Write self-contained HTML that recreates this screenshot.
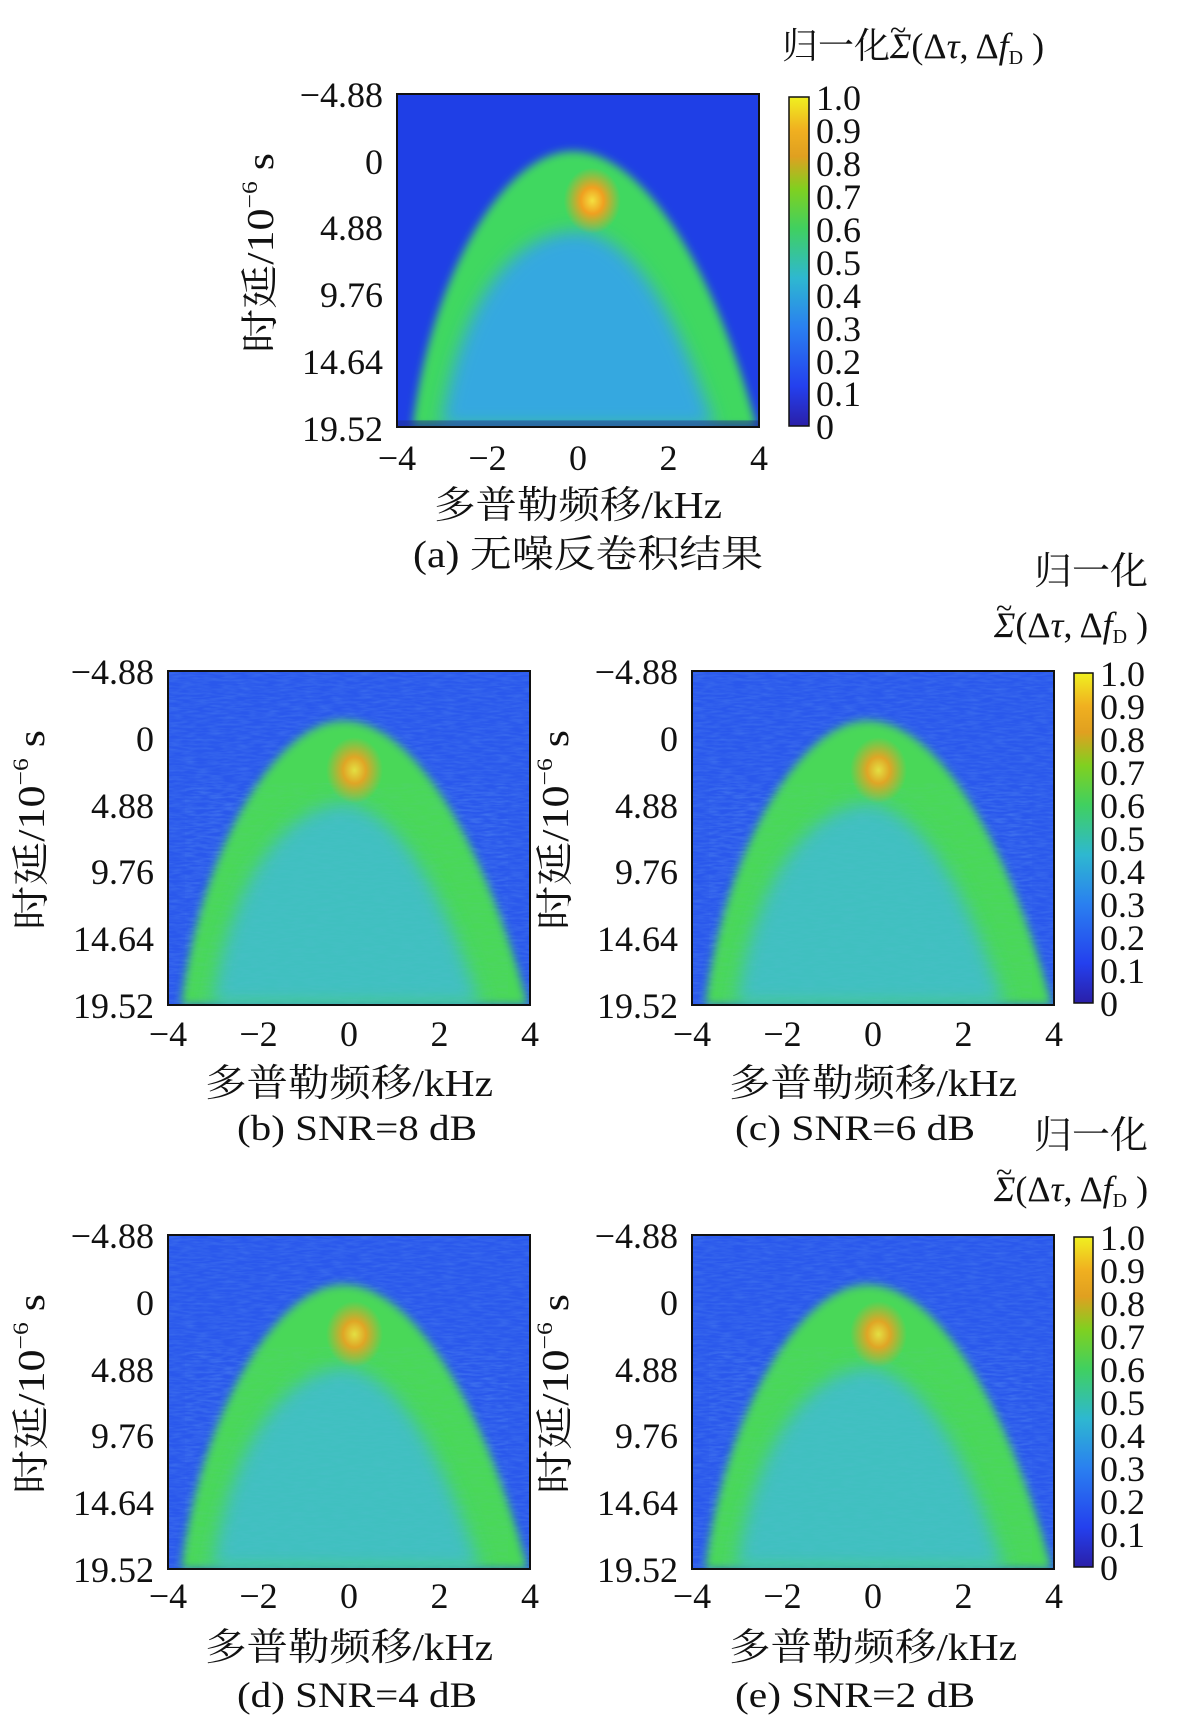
<!DOCTYPE html>
<html><head><meta charset="utf-8"><style>
html,body{margin:0;padding:0;background:#fff;}
svg text{font-family:"Liberation Serif","Noto Serif CJK SC",serif;fill:#111;}
</style></head><body>
<svg width="1181" height="1725" viewBox="0 0 1181 1725" xmlns="http://www.w3.org/2000/svg">
<defs>
<linearGradient id="cb" x1="0" y1="1" x2="0" y2="0">
<stop offset="0" stop-color="#2a1fa8"/><stop offset="0.12" stop-color="#2440ee"/>
<stop offset="0.3" stop-color="#2a80f0"/><stop offset="0.45" stop-color="#2eb8d0"/>
<stop offset="0.6" stop-color="#40d060"/><stop offset="0.72" stop-color="#80d020"/>
<stop offset="0.82" stop-color="#e0a020"/><stop offset="0.9" stop-color="#f0b020"/>
<stop offset="1" stop-color="#f0f020"/></linearGradient>
<radialGradient id="hot"><stop offset="0" stop-color="#f4e040"/><stop offset="0.4" stop-color="#f0a020"/><stop offset="1" stop-color="#f0a020" stop-opacity="0"/></radialGradient>
<filter id="bl" x="-10%" y="-10%" width="120%" height="120%"><feGaussianBlur stdDeviation="4"/></filter>
<filter id="bl2"><feGaussianBlur stdDeviation="8"/></filter>
<filter id="nz"><feTurbulence type="fractalNoise" baseFrequency="0.08 0.5" numOctaves="2" seed="3"/><feColorMatrix values="0 0 0 0 0.2 0 0 0 0 0.5 0 0 0 0 0.9 0 0 0 0.6 -0.2"/></filter>
<clipPath id="cp"><rect width="330" height="303"/></clipPath>
<symbol id="ha" viewBox="0 0 330 303" preserveAspectRatio="none">
<g clip-path="url(#cp)">
<rect width="330" height="303" fill="#1f3fe6"/>
<path d="M14,303 C 32,160 100,52 160,52 C 225,52 290,160 328,303 Z" fill="#40d860" filter="url(#bl)"/>
<path d="M40,303 C 55,200 100,125 165,125 C 215,128 255,200 290,303 Z" fill="#35a8e0" filter="url(#bl2)"/>
<ellipse cx="178" cy="97" rx="26" ry="30" fill="url(#hot)"/>
<rect x="0" y="297" width="330" height="6" fill="#20308a" opacity="0.5"/>
</g></symbol>
<symbol id="hb" viewBox="0 0 330 303" preserveAspectRatio="none">
<g clip-path="url(#cp)">
<rect width="330" height="303" fill="#2a58ec"/>
<rect width="330" height="303" filter="url(#nz)" opacity="0.6"/>
<path d="M12,303 C 30,160 100,45 160,45 C 225,45 290,160 328,303 Z" fill="#48d858" filter="url(#bl)"/>
<path d="M40,303 C 55,200 100,125 160,120 C 210,125 250,200 285,303 Z" fill="#40c0c0" filter="url(#bl2)"/>
<path d="M40,303 C 55,200 100,125 160,120 C 210,125 250,200 285,303 Z" fill="#000" filter="url(#nz)" opacity="0.25"/>
<ellipse cx="170" cy="90" rx="26" ry="30" fill="url(#hot)" opacity="0.9"/>
</g></symbol>
</defs>

<!-- (a) -->
<use href="#ha" x="397" y="94" width="362" height="333"/>
<rect x="397" y="94" width="362" height="333" fill="none" stroke="#111" stroke-width="2"/>
<g transform="translate(397,94)" font-size="36">
<g text-anchor="end"><text x="-14" y="13">−4.88</text><text x="-14" y="80">0</text><text x="-14" y="146">4.88</text><text x="-14" y="213">9.76</text><text x="-14" y="280">14.64</text><text x="-14" y="347">19.52</text></g>
<g text-anchor="middle"><text x="0" y="376">−4</text><text x="90.5" y="376">−2</text><text x="181" y="376">0</text><text x="271.5" y="376">2</text><text x="362" y="376">4</text></g>
<text x="181" y="424" text-anchor="middle" font-size="38" textLength="288" lengthAdjust="spacingAndGlyphs">多普勒频移/kHz</text>
<text x="191" y="473" text-anchor="middle" font-size="38" textLength="350" lengthAdjust="spacingAndGlyphs">(a) 无噪反卷积结果</text>
<text transform="translate(-124,159) rotate(-90)" text-anchor="middle" font-size="38" textLength="200" lengthAdjust="spacingAndGlyphs">时延/10<tspan font-size="22" dy="-16">−6</tspan><tspan dy="16"> s</tspan></text>
</g>
<rect x="789" y="97" width="20" height="329" fill="url(#cb)" stroke="#111" stroke-width="1.5"/>
<g font-size="36" transform="translate(816,0)"><text y="110">1.0</text><text y="143">0.9</text><text y="176">0.8</text><text y="209">0.7</text><text y="242">0.6</text><text y="275">0.5</text><text y="308">0.4</text><text y="341">0.3</text><text y="374">0.2</text><text y="406">0.1</text><text y="439">0</text></g>
<text x="782" y="58" font-size="36">归一化<tspan font-style="italic">Σ</tspan>(Δ<tspan font-style="italic">τ</tspan>, Δ<tspan font-style="italic">f</tspan><tspan font-size="20" dy="6">D</tspan><tspan dy="-6"> )</tspan></text>
<text x="890" y="40" font-size="30">~</text>

<!-- plots b..e -->
<g transform="translate(168,671)">
<use href="#hb" width="362" height="334"/>
<rect width="362" height="334" fill="none" stroke="#111" stroke-width="2"/>
<g font-size="36">
<g text-anchor="end"><text x="-14" y="13">−4.88</text><text x="-14" y="80">0</text><text x="-14" y="147">4.88</text><text x="-14" y="213">9.76</text><text x="-14" y="280">14.64</text><text x="-14" y="347">19.52</text></g>
<g text-anchor="middle"><text x="0" y="375">−4</text><text x="90.5" y="375">−2</text><text x="181" y="375">0</text><text x="271.5" y="375">2</text><text x="362" y="375">4</text></g>
<text x="181" y="425" text-anchor="middle" font-size="38" textLength="288" lengthAdjust="spacingAndGlyphs">多普勒频移/kHz</text>
<text transform="translate(-124,159) rotate(-90)" text-anchor="middle" font-size="38" textLength="200" lengthAdjust="spacingAndGlyphs">时延/10<tspan font-size="22" dy="-16">−6</tspan><tspan dy="16"> s</tspan></text>
</g></g>
<text x="357" y="1140" text-anchor="middle" font-size="36" textLength="240" lengthAdjust="spacingAndGlyphs">(b) SNR=8 dB</text>

<g transform="translate(692,671)">
<use href="#hb" width="362" height="334"/>
<rect width="362" height="334" fill="none" stroke="#111" stroke-width="2"/>
<g font-size="36">
<g text-anchor="end"><text x="-14" y="13">−4.88</text><text x="-14" y="80">0</text><text x="-14" y="147">4.88</text><text x="-14" y="213">9.76</text><text x="-14" y="280">14.64</text><text x="-14" y="347">19.52</text></g>
<g text-anchor="middle"><text x="0" y="375">−4</text><text x="90.5" y="375">−2</text><text x="181" y="375">0</text><text x="271.5" y="375">2</text><text x="362" y="375">4</text></g>
<text x="181" y="425" text-anchor="middle" font-size="38" textLength="288" lengthAdjust="spacingAndGlyphs">多普勒频移/kHz</text>
<text transform="translate(-124,159) rotate(-90)" text-anchor="middle" font-size="38" textLength="200" lengthAdjust="spacingAndGlyphs">时延/10<tspan font-size="22" dy="-16">−6</tspan><tspan dy="16"> s</tspan></text>
</g></g>
<text x="855" y="1140" text-anchor="middle" font-size="36" textLength="240" lengthAdjust="spacingAndGlyphs">(c) SNR=6 dB</text>

<g transform="translate(168,1235)">
<use href="#hb" width="362" height="334"/>
<rect width="362" height="334" fill="none" stroke="#111" stroke-width="2"/>
<g font-size="36">
<g text-anchor="end"><text x="-14" y="13">−4.88</text><text x="-14" y="80">0</text><text x="-14" y="147">4.88</text><text x="-14" y="213">9.76</text><text x="-14" y="280">14.64</text><text x="-14" y="347">19.52</text></g>
<g text-anchor="middle"><text x="0" y="373">−4</text><text x="90.5" y="373">−2</text><text x="181" y="373">0</text><text x="271.5" y="373">2</text><text x="362" y="373">4</text></g>
<text x="181" y="425" text-anchor="middle" font-size="38" textLength="288" lengthAdjust="spacingAndGlyphs">多普勒频移/kHz</text>
<text transform="translate(-124,159) rotate(-90)" text-anchor="middle" font-size="38" textLength="200" lengthAdjust="spacingAndGlyphs">时延/10<tspan font-size="22" dy="-16">−6</tspan><tspan dy="16"> s</tspan></text>
</g></g>
<text x="357" y="1707" text-anchor="middle" font-size="36" textLength="240" lengthAdjust="spacingAndGlyphs">(d) SNR=4 dB</text>

<g transform="translate(692,1235)">
<use href="#hb" width="362" height="334"/>
<rect width="362" height="334" fill="none" stroke="#111" stroke-width="2"/>
<g font-size="36">
<g text-anchor="end"><text x="-14" y="13">−4.88</text><text x="-14" y="80">0</text><text x="-14" y="147">4.88</text><text x="-14" y="213">9.76</text><text x="-14" y="280">14.64</text><text x="-14" y="347">19.52</text></g>
<g text-anchor="middle"><text x="0" y="373">−4</text><text x="90.5" y="373">−2</text><text x="181" y="373">0</text><text x="271.5" y="373">2</text><text x="362" y="373">4</text></g>
<text x="181" y="425" text-anchor="middle" font-size="38" textLength="288" lengthAdjust="spacingAndGlyphs">多普勒频移/kHz</text>
<text transform="translate(-124,159) rotate(-90)" text-anchor="middle" font-size="38" textLength="200" lengthAdjust="spacingAndGlyphs">时延/10<tspan font-size="22" dy="-16">−6</tspan><tspan dy="16"> s</tspan></text>
</g></g>
<text x="855" y="1707" text-anchor="middle" font-size="36" textLength="240" lengthAdjust="spacingAndGlyphs">(e) SNR=2 dB</text>

<!-- colorbars b/c and d/e -->
<rect x="1074" y="673" width="19" height="330" fill="url(#cb)" stroke="#111" stroke-width="1.5"/>
<g font-size="36" transform="translate(1100,0)"><text y="686">1.0</text><text y="719">0.9</text><text y="752">0.8</text><text y="785">0.7</text><text y="818">0.6</text><text y="851">0.5</text><text y="884">0.4</text><text y="917">0.3</text><text y="950">0.2</text><text y="983">0.1</text><text y="1016">0</text></g>
<text x="1148" y="584" text-anchor="end" font-size="38">归一化</text>
<text x="994" y="637" font-size="36"><tspan font-style="italic">Σ</tspan>(Δ<tspan font-style="italic">τ</tspan>, Δ<tspan font-style="italic">f</tspan><tspan font-size="20" dy="6">D</tspan><tspan dy="-6"> )</tspan></text>
<text x="996" y="618" font-size="30">~</text>

<rect x="1074" y="1237" width="19" height="330" fill="url(#cb)" stroke="#111" stroke-width="1.5"/>
<g font-size="36" transform="translate(1100,1564)"><text y="-314">1.0</text><text y="-281">0.9</text><text y="-248">0.8</text><text y="-215">0.7</text><text y="-182">0.6</text><text y="-149">0.5</text><text y="-116">0.4</text><text y="-83">0.3</text><text y="-50">0.2</text><text y="-17">0.1</text><text y="16">0</text></g>
<text x="1148" y="1148" text-anchor="end" font-size="38">归一化</text>
<text x="994" y="1201" font-size="36"><tspan font-style="italic">Σ</tspan>(Δ<tspan font-style="italic">τ</tspan>, Δ<tspan font-style="italic">f</tspan><tspan font-size="20" dy="6">D</tspan><tspan dy="-6"> )</tspan></text>
<text x="996" y="1182" font-size="30">~</text>
</svg>
</body></html>
